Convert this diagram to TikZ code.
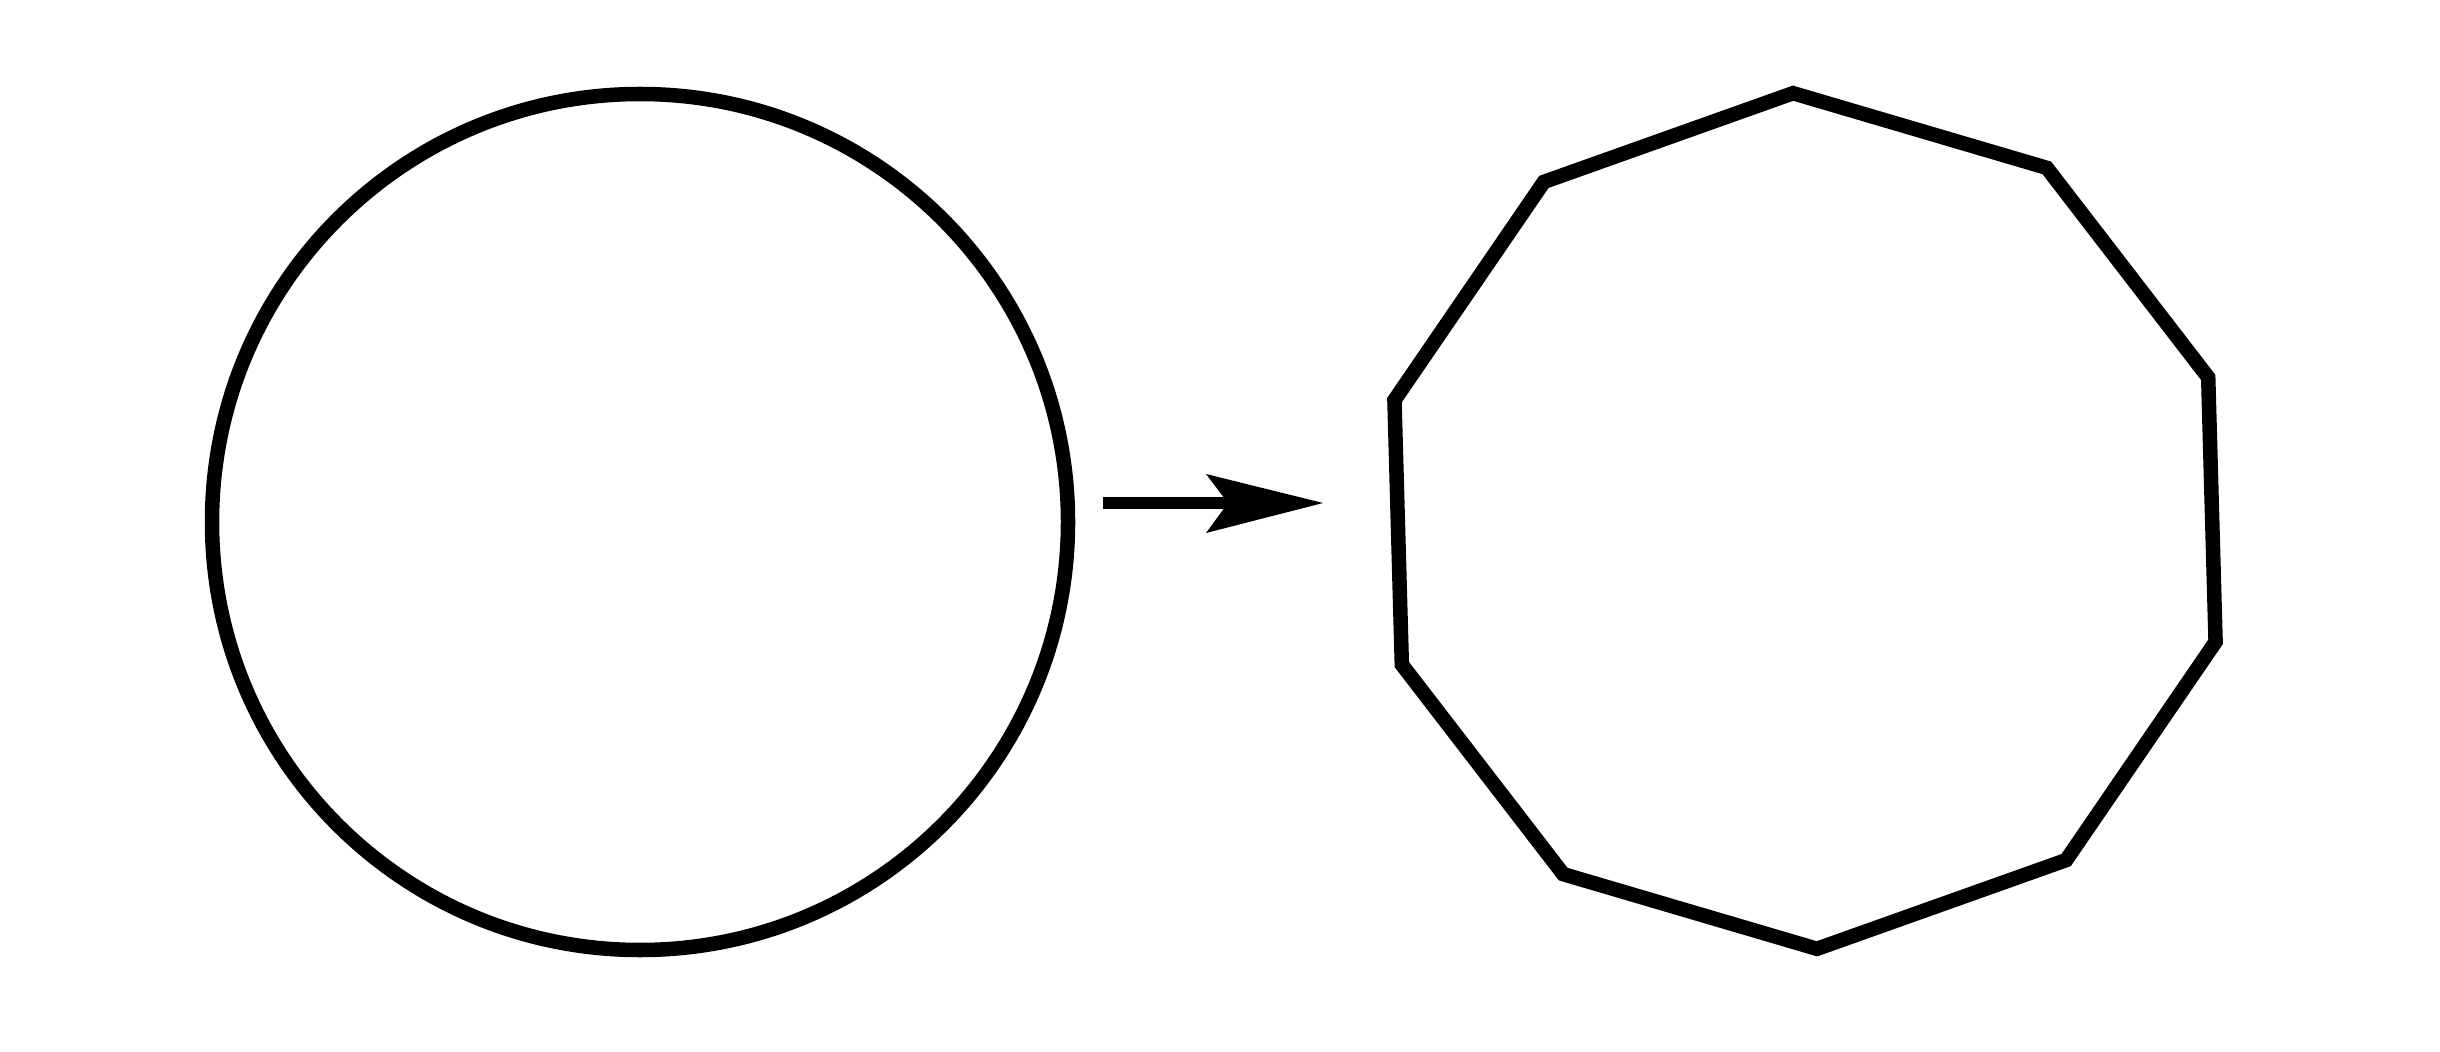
\documentclass[tikz,border=0pt]{standalone}
\begin{document}
\begin{tikzpicture}[x=0.01cm,y=-0.01cm,
  shapeline/.style={draw=black, line width=0.145cm, line join=miter},
  arrline/.style={draw=black, line width=0.11cm, line cap=butt}]
\fill[white] (0,0) rectangle (2440,1052);
\useasboundingbox (0,0) rectangle (2440,1052);
% circle
\coordinate (cc) at (640,522);
\draw[shapeline] (cc) circle[radius=428];
% decagon
\coordinate (dc) at (1805,521);
\foreach \k in {0,...,9} {
  \path (dc) ++(-91.6+36*\k:428) coordinate (d\k);
}
\draw[shapeline] (d0) -- (d1) -- (d2) -- (d3) -- (d4) -- (d5) -- (d6) -- (d7) -- (d8) -- (d9) -- cycle;
% arrow
\coordinate (as) at (1103,503);
\coordinate (an) at (1228,503);
\coordinate (at) at (1323,503);
\coordinate (ab1) at (1206,474);
\coordinate (ab2) at (1206,533);
\draw[arrline] (as) -- (an);
\fill[black] (at) -- (ab1) -- (an) -- (ab2) -- cycle;
\end{tikzpicture}
\end{document}
